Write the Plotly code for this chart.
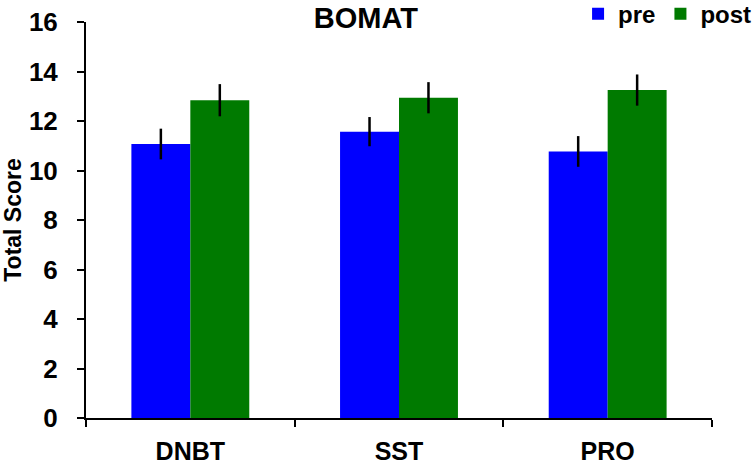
import plotly.graph_objects as go

categories = ["DNBT", "SST", "PRO"]
pre_values = [11.07, 11.57, 10.77]
post_values = [12.84, 12.94, 13.25]
pre_err = [0.62, 0.59, 0.62]
post_err = [0.65, 0.63, 0.63]
y_ticks = [0, 2, 4, 6, 8, 10, 12, 14, 16]

FONT = "Liberation Sans, Arial, sans-serif"

fig = go.Figure()
fig.add_trace(go.Bar(
    name="pre", x=categories, y=pre_values,
    marker=dict(color="#0000FF", line=dict(width=0)),
    error_y=dict(type="data", array=pre_err, color="black", thickness=2.5, width=0),
))
fig.add_trace(go.Bar(
    name="post", x=categories, y=post_values,
    marker=dict(color="#007A00", line=dict(width=0)),
    error_y=dict(type="data", array=post_err, color="black", thickness=2.5, width=0),
))

fig.update_layout(
    width=755, height=465,
    paper_bgcolor="white", plot_bgcolor="white",
    margin=dict(l=86, r=43, t=22, b=47, autoexpand=False),
    barmode="group", bargap=0.435, bargroupgap=0,
    font=dict(family=FONT, color="black", weight="bold"),
    title=dict(text="BOMAT", x=0.447, xref="paper", xanchor="center",
               y=0.961, yref="container", yanchor="middle",
               font=dict(size=29, family=FONT, color="black", weight="bold")),
    legend=dict(orientation="h", x=1.072, xanchor="right", xref="paper",
                y=1.02, yanchor="middle", yref="paper",
                font=dict(size=24, family=FONT, color="black", weight="bold"),
                itemwidth=30, traceorder="normal", bgcolor="rgba(0,0,0,0)",
                tracegroupgap=0),
    showlegend=True,
)

fig.update_xaxes(
    showline=True, linecolor="black", linewidth=2,
    ticks="outside", tickson="boundaries", ticklen=7, tickwidth=2, tickcolor="black",
    tickfont=dict(size=25, family=FONT, color="black", weight="bold"),
    ticklabelstandoff=10, automargin=False,
    showgrid=False, zeroline=False,
)
fig.update_yaxes(
    range=[0, 16], tickvals=y_ticks,
    showline=True, linecolor="black", linewidth=2,
    ticks="outside", ticklen=7, tickwidth=2, tickcolor="black",
    tickfont=dict(size=26, family=FONT, color="black", weight="bold"),
    ticklabelstandoff=14, automargin=False,
    showgrid=False, zeroline=False,
    title=dict(text="Total Score", font=dict(size=23, family=FONT, color="black", weight="bold"), standoff=4),
)

fig.write_html("out.html", config={"displayModeBar": False},
               post_script="document.body.style.margin='0';document.body.style.overflow='hidden';")
